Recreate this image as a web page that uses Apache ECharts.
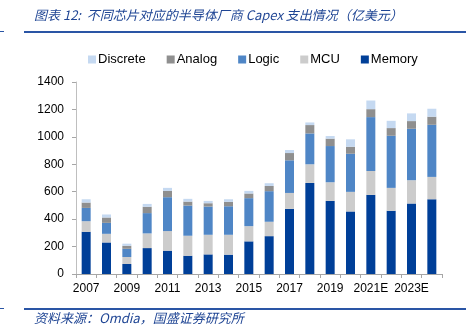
<!DOCTYPE html>
<html>
<head>
<meta charset="utf-8">
<script src="https://cdn.jsdelivr.net/npm/echarts@6/dist/echarts.min.js"></script>
<style>
html,body{margin:0;padding:0;background:#fff;}
#chart{width:474px;height:331px;}
</style>
</head>
<body>
<div id="chart"></div>
<script>
var categories = ['2007','2008','2009','2010','2011','2012','2013','2014','2015','2016','2017','2018','2019','2020','2021E','2022E','2023E','2024E'];
var memory   = [308,230,73,189,170,133,143,141,238,276,475,664,533,456,577,461,514,545];
var mcu      = [77,63,51,107,143,146,143,145,111,105,116,136,136,143,174,167,170,163];
var logic    = [97,80,60,148,247,220,206,208,204,223,238,225,264,278,393,380,375,380];
var analog   = [39,39,22,46,46,29,24,32,34,38,53,61,54,51,58,56,56,59];
var discrete = [24,22,15,21,22,20,17,19,19,20,22,19,19,54,63,53,56,58];
var yTicks = [0,200,400,600,800,1000,1200,1400];

var chart = echarts.init(document.getElementById('chart'));
var titleColor = '#1f4594';
function bar(name, data, color){
  return {name:name, type:'bar', stack:'total', data:data, barWidth:9,
    itemStyle:{color:color}, emphasis:{disabled:true}};
}
chart.setOption({
  animation:false,
  textStyle:{fontFamily:'Liberation Sans, Arial, sans-serif'},
  graphic:[
    {type:'text', left:34, top:9, style:{text:'图表 12:  不同芯片对应的半导体厂商 Capex 支出情况（亿美元）', fill:titleColor, font:'italic 13px "Noto Sans CJK SC", sans-serif'}},
    {type:'rect', shape:{x:24, y:31, width:442, height:2}, style:{fill:'#2a55a5'}},
    {type:'rect', shape:{x:0, y:31, width:4, height:1}, style:{fill:'#2a55a5'}},
    {type:'rect', shape:{x:24, y:308, width:442, height:2}, style:{fill:'#2a55a5'}},
    {type:'rect', shape:{x:0, y:308, width:4, height:1}, style:{fill:'#2a55a5'}},
    {type:'text', left:34, top:312, style:{text:'资料来源：Omdia，国盛证券研究所', fill:titleColor, font:'italic 13px "Noto Sans CJK SC", sans-serif'}}
  ],
  legend:{
    data:['Discrete','Analog','Logic','MCU','Memory'],
    left:83, top:48, itemWidth:8, itemHeight:8, itemGap:21,
    icon:'rect',
    textStyle:{fontSize:13, color:'#000', padding:[0,0,0,-3]}
  },
  grid:{left:76, right:32, top:82, bottom:57},
  xAxis:{
    type:'category', data:categories,
    axisLine:{lineStyle:{color:'#a6a6a6'}},
    axisTick:{show:true, interval:0, length:4, lineStyle:{color:'#a6a6a6'}},
    axisLabel:{interval:1, color:'#000', fontSize:12, margin:9}
  },
  yAxis:{
    type:'value', min:yTicks[0], max:yTicks[yTicks.length-1], interval:200,
    axisLine:{show:true, lineStyle:{color:'#bfbfbf'}},
    axisTick:{show:true, length:4, lineStyle:{color:'#a6a6a6'}},
    splitLine:{show:false},
    axisLabel:{color:'#000', fontSize:12, margin:12, formatter:function(v){return String(v);}}
  },
  series:[
    bar('Memory', memory, '#003f98'),
    bar('MCU', mcu, '#cccccc'),
    bar('Logic', logic, '#4f86c6'),
    bar('Analog', analog, '#8f8f8f'),
    bar('Discrete', discrete, '#c5d9f1')
  ]
});
</script>
</body>
</html>
